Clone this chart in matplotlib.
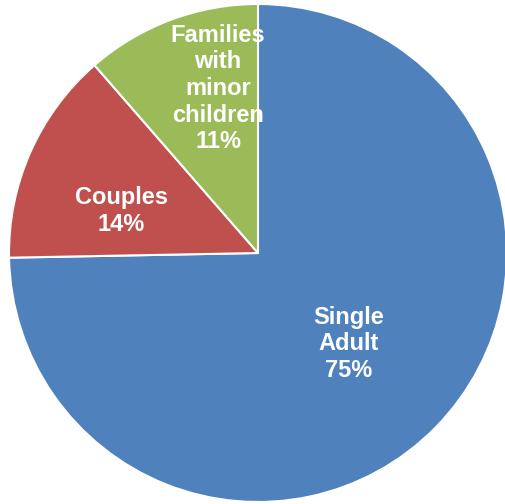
import numpy as np
import matplotlib.pyplot as plt

# ---------- data ----------
categories = ["Single\nAdult", "Couples", "Families\nwith\nminor\nchildren"]
shares = [74.7, 13.9, 11.4]
colors = ["#4F81BD", "#C0504D", "#9BBB59"]

# label placement (fraction of radius, angle nudge in degrees)
label_radius = [0.515, 0.575, 0.68]
label_nudge = [-0.5, 7.0, -6.9]

fig = plt.figure(figsize=(5.06, 5.04), dpi=100)
ax = fig.add_axes([9 / 506, 2 / 504, 498 / 506, 498 / 504])

wedges, _ = ax.pie(
    shares, colors=colors, startangle=90, counterclock=False,
    wedgeprops=dict(edgecolor="white", linewidth=1.5),
)
for w in wedges:
    w.set_clip_on(False)

for w, cat, val, r, nudge in zip(wedges, categories, shares, label_radius, label_nudge):
    mid = np.deg2rad((w.theta1 + w.theta2) / 2 + nudge)
    ax.text(r * np.cos(mid), r * np.sin(mid), f"{cat}\n{val:.0f}%",
            ha="center", va="center", color="white", fontsize=17,
            fontweight="bold", family=["Liberation Sans", "DejaVu Sans"],
            linespacing=1.2)

ax.set_xlim(-1, 1)
ax.set_ylim(-1, 1)
ax.set_aspect("equal")
ax.axis("off")

fig.savefig("out.png", dpi=100)
